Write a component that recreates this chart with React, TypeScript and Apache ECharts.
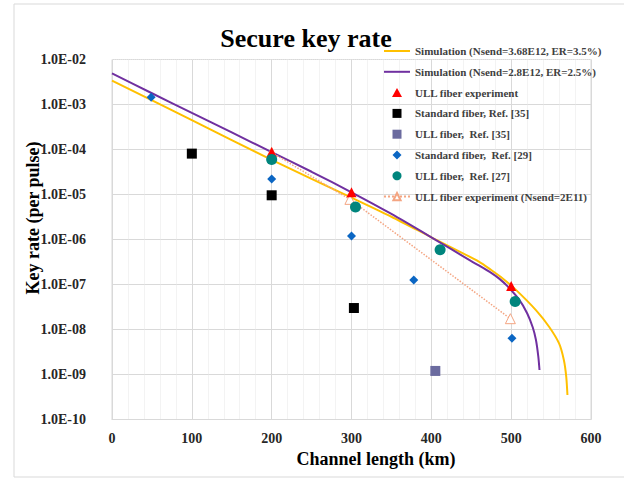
import React, { useEffect, useRef } from "react";
import * as echarts from "echarts";

const FONT = '"Liberation Serif", "Times New Roman", serif';

// Simulation curves (km, key rate per pulse)
const simYellowKm = [0, 100, 200, 300, 350, 400, 460, 475, 489, 506, 531, 547.5, 560, 566, 569, 570.5];
const simYellowRate = [3.4e-3, 4.5e-4, 5.9e-5, 8.5e-6, 3.2e-6, 1.12e-6, 3.2e-7, 2.1e-7, 1.38e-7, 7.6e-8, 2.7e-8, 1.15e-8, 4.9e-9, 2.1e-9, 8.9e-10, 3.5e-10];
const simPurpleKm = [0, 50, 100, 150, 200, 250, 300, 350, 400, 450, 460, 475, 485, 495, 510, 520, 527, 531, 534, 535.5];
const simPurpleRate = [4.9e-3, 1.78e-3, 6.5e-4, 2.4e-4, 8.7e-5, 3.2e-5, 1.12e-5, 3.7e-6, 1.12e-6, 3.3e-7, 2.63e-7, 1.82e-7, 1.35e-7, 9.3e-8, 4.6e-8, 2.3e-8, 1.12e-8, 5.9e-9, 2.5e-9, 1.26e-9];

// Experimental / reference points
const ullExpKm = [200, 300, 500];
const ullExpRate = [8.8e-5, 1.12e-5, 9.3e-8];
const stdRef35Km = [100, 200, 303];
const stdRef35Rate = [8.1e-5, 9.6e-6, 3.0e-8];
const ullRef35Km = [405];
const ullRef35Rate = [1.2e-9];
const stdRef29Km = [49, 200, 300, 378, 501];
const stdRef29Rate = [1.45e-3, 2.2e-5, 1.2e-6, 1.26e-7, 6.4e-9];
const ullRef27Km = [200, 305, 411, 505];
const ullRef27Rate = [6.0e-5, 5.3e-6, 5.9e-7, 4.2e-8];
const ullExp2E11Km = [200, 298, 499];
const ullExp2E11Rate = [8.6e-5, 7.8e-6, 1.74e-8];

const xTicks = [0, 100, 200, 300, 400, 500, 600];
const yDecades = [-10, -9, -8, -7, -6, -5, -4, -3, -2];
const minorMantissas = [2, 3, 4, 5, 6, 7, 8, 9];

const names = [
  "Simulation (Nsend=3.68E12, ER=3.5%)",
  "Simulation (Nsend=2.8E12, ER=2.5%)",
  "ULL fiber experiment",
  "Standard fiber, Ref. [35]",
  "ULL fiber,  Ref. [35]",
  "Standard fiber,  Ref. [29]",
  "ULL fiber,  Ref. [27]",
  "ULL fiber experiment (Nsend=2E11)",
];

const ICON_LINE = "path://M0 0H26V2H0Z";
const ICON_SQUARE = "path://M0 0H10V10H0Z";
const ICON_TRIANGLE = "path://M5 0L10 9H0Z";
const ICON_DIAMOND = "path://M5 0L10 5L5 10L0 5Z";

const zip = (a: number[], b: number[]) => a.map((v, i) => [v, b[i]]);

export default function App() {
  const ref = useRef<HTMLDivElement>(null);
  useEffect(() => {
    if (!ref.current) return;
    const chart = echarts.init(ref.current, undefined, { renderer: "svg" });
    const minorLines: any[] = [];
    yDecades.slice(0, -1).forEach((d) => {
      minorMantissas.forEach((m) => minorLines.push({ yAxis: m * Math.pow(10, d) }));
    });
    const fmtY = (v: number) => {
      const e = Math.round(Math.log10(v));
      return "1.0E" + (e < 0 ? "-" : "+") + String(Math.abs(e)).padStart(2, "0");
    };
    const scatter = (name: string, km: number[], rate: number[], symbol: string, size: number, color: string) => ({
      name,
      type: "scatter",
      data: zip(km, rate),
      symbol,
      symbolSize: size,
      itemStyle: { color, opacity: 1 },
      z: 3,
    });
    chart.setOption({
      animation: false,
      backgroundColor: "#ffffff",
      grid: {
        left: 112,
        right: 33,
        top: 59.5,
        bottom: 59.5,
        show: true,
        borderColor: "#D9D9D9",
        borderWidth: 1,
        containLabel: false,
        outerBoundsMode: "none",
      },
      xAxis: {
        type: "value",
        min: xTicks[0],
        max: xTicks[xTicks.length - 1],
        interval: 100,
        axisLine: { show: true, lineStyle: { color: "#D9D9D9" } },
        axisTick: { show: false },
        axisLabel: {
          margin: 12,
          fontFamily: FONT,
          fontWeight: "bold",
          fontSize: 14,
          color: "#262626",
        },
        splitLine: { show: true, lineStyle: { color: "#D9D9D9", width: 1 } },
        minorTick: { show: false, splitNumber: 5 },
        minorSplitLine: { show: true, lineStyle: { color: "#E6E6E6", type: "dotted", width: 1 } },
      },
      yAxis: {
        type: "log",
        logBase: 10,
        min: Math.pow(10, yDecades[0]),
        max: Math.pow(10, yDecades[yDecades.length - 1]),
        splitNumber: 8,
        axisLine: { show: true, lineStyle: { color: "#D9D9D9" } },
        axisTick: { show: false },
        axisLabel: {
          margin: 26,
          formatter: fmtY,
          fontFamily: FONT,
          fontWeight: "bold",
          fontSize: 14,
          color: "#262626",
        },
        splitLine: { show: true, lineStyle: { color: "#D9D9D9", width: 1 } },
      },
      legend: {
        orient: "vertical",
        left: 383,
        top: 45,
        padding: 0,
        itemGap: 8.8,
        itemWidth: 26,
        itemHeight: 9,
        data: [
          { name: names[0], icon: ICON_LINE },
          { name: names[1], icon: ICON_LINE },
          { name: names[2], icon: ICON_TRIANGLE },
          { name: names[3], icon: ICON_SQUARE },
          { name: names[4], icon: ICON_SQUARE },
          { name: names[5], icon: ICON_DIAMOND },
          { name: names[6], icon: "circle" },
          { name: names[7] },
        ],
        textStyle: {
          fontFamily: FONT,
          fontWeight: "bold",
          fontSize: 11,
          lineHeight: 12,
          color: "#404040",
        },
      },
      graphic: [
        {
          type: "rect",
          shape: { x: 14, y: 4, width: 640, height: 473 },
          style: { fill: "none", stroke: "#D9D9D9", lineWidth: 1 },
          silent: true,
          z: -10,
        },
        {
          type: "text",
          x: 306,
          y: 38,
          style: {
            text: "Secure key rate",
            font: "bold 26px " + FONT,
            fill: "#000000",
            align: "center",
            verticalAlign: "middle",
            textAlign: "center",
            textVerticalAlign: "middle",
          },
        },
        {
          type: "text",
          x: 376,
          y: 459,
          style: {
            text: "Channel length (km)",
            font: "bold 18px " + FONT,
            fill: "#000000",
            align: "center",
            verticalAlign: "middle",
            textAlign: "center",
            textVerticalAlign: "middle",
          },
        },
        {
          type: "text",
          x: 33,
          y: 218,
          rotation: Math.PI / 2,
          style: {
            text: "Key rate (per pulse)",
            font: "bold 18px " + FONT,
            fill: "#000000",
            align: "center",
            verticalAlign: "middle",
            textAlign: "center",
            textVerticalAlign: "middle",
          },
        },
      ],
      series: [
        {
          name: "minor-grid",
          type: "line",
          data: [],
          silent: true,
          markLine: {
            silent: true,
            symbol: ["none", "none"],
            label: { show: false },
            lineStyle: { color: "#E3E3E3", type: "dotted", width: 1 },
            data: minorLines,
            animation: false,
          },
          z: 0,
        },
        {
          name: names[0],
          type: "line",
          data: zip(simYellowKm, simYellowRate),
          symbol: "none",
          smooth: 0.25,
          lineStyle: { color: "#FFC000", width: 2 },
          itemStyle: { color: "#FFC000" },
          z: 2,
        },
        {
          name: names[1],
          type: "line",
          data: zip(simPurpleKm, simPurpleRate),
          symbol: "none",
          smooth: 0.25,
          lineStyle: { color: "#7030A0", width: 2 },
          itemStyle: { color: "#7030A0" },
          z: 2,
        },
        {
          name: names[7],
          type: "line",
          data: zip(ullExp2E11Km, ullExp2E11Rate),
          symbol: "triangle",
          symbolSize: 10,
          showSymbol: true,
          lineStyle: { color: "#F4A582", width: 1.5, type: "dotted" },
          itemStyle: { color: "#ffffff", borderColor: "#F4A582", borderWidth: 1 },
          z: 2,
        },
        scatter(names[2], ullExpKm, ullExpRate, "triangle", 10, "#FF0000"),
        scatter(names[3], stdRef35Km, stdRef35Rate, "rect", 10, "#000000"),
        scatter(names[4], ullRef35Km, ullRef35Rate, "rect", 10, "#6B6B9F"),
        scatter(names[5], stdRef29Km, stdRef29Rate, "diamond", 9, "#0B66C3"),
        scatter(names[6], ullRef27Km, ullRef27Rate, "circle", 11, "#00857D"),
      ],
    });
    return () => chart.dispose();
  }, []);
  return <div ref={ref} style={{ position: "fixed", left: 0, top: 0, width: 624, height: 479 }} />;
}
